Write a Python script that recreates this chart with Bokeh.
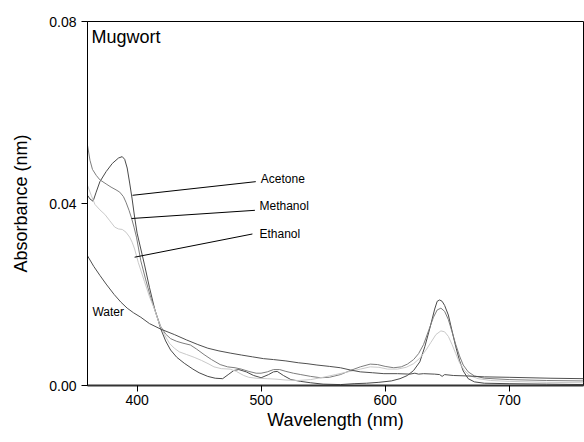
from bokeh.plotting import figure
from bokeh.models import FixedTicker, Range1d
from bokeh.core.properties import value
from bokeh.embed import file_html
from bokeh.resources import INLINE

# ---- data ----
acetone_wl = [360, 362, 364.5, 367, 370, 375, 380, 385, 388, 390, 392, 394, 396, 398, 400, 403, 406, 410, 414, 419,
              423, 427, 432, 438, 445, 450, 457, 463, 469, 474, 478, 482, 488, 494, 500, 506, 510, 513, 518, 524,
              532, 540, 550, 564, 575, 585, 595, 605, 612, 618, 623, 628, 632, 636, 640, 642, 644, 646, 648, 651,
              654, 657, 660, 663, 667, 672, 680, 700, 730, 760]
acetone_abs = [0.0418, 0.0410, 0.0405, 0.0425, 0.0448, 0.0470, 0.0488, 0.0500, 0.0503, 0.0497, 0.0478, 0.0445, 0.0410,
               0.0370, 0.0335, 0.0300, 0.0265, 0.0215, 0.0170, 0.0125, 0.0098, 0.0078, 0.0062, 0.0049, 0.0036, 0.0028,
               0.0020, 0.0016, 0.0015, 0.0025, 0.0033, 0.0035, 0.0030, 0.0022, 0.0017, 0.0024, 0.0030, 0.0031, 0.0022,
               0.0013, 0.0009, 0.0006, 0.0003, 0.0002, 0.0004, 0.0005, 0.0007, 0.0010, 0.0015, 0.0022, 0.0033, 0.0052,
               0.0085, 0.0125, 0.0168, 0.0185, 0.0188, 0.0185, 0.0176, 0.0155, 0.0120, 0.0085, 0.0055, 0.0032, 0.0015,
               0.0008, 0.0005, 0.0004, 0.0003, 0.0002]

methanol_wl = [360, 362, 364, 367, 370, 375, 379, 383, 386, 389, 391, 393.5, 395.5, 397.5, 399.5, 403, 407, 411, 415,
               419, 423, 427, 432, 437, 443, 448, 454, 460, 467, 473, 479, 484, 490, 496, 500, 505, 510, 515, 520, 526,
               532, 540, 548, 555, 564, 572, 580, 588, 594, 600, 607, 613, 618, 623, 627, 631, 635, 639, 642, 645, 648,
               651, 654, 657, 660, 663, 667, 672, 680, 700, 730, 760]
methanol_abs = [0.0528, 0.0495, 0.0475, 0.0462, 0.0452, 0.0443, 0.0436, 0.0430, 0.0425, 0.0415, 0.0403, 0.0385, 0.0368,
                0.0348, 0.0326, 0.0274, 0.0232, 0.0193, 0.0160, 0.0130, 0.0113, 0.0103, 0.0097, 0.0093, 0.0089, 0.0080,
                0.0068, 0.0057, 0.0046, 0.0041, 0.0039, 0.0036, 0.0031, 0.0027, 0.0027, 0.0030, 0.0035, 0.0035, 0.0031,
                0.0027, 0.0024, 0.0020, 0.0017, 0.0018, 0.0024, 0.0033, 0.0041, 0.0047, 0.0046, 0.0042, 0.0039, 0.0041,
                0.0047, 0.0057, 0.0070, 0.0090, 0.0120, 0.0150, 0.0166, 0.0170, 0.0163, 0.0145, 0.0118, 0.0090, 0.0065,
                0.0045, 0.0030, 0.0021, 0.0016, 0.0013, 0.0011, 0.0010]

ethanol_wl = [360, 363, 366, 370, 374, 378, 382, 385, 388, 391, 394, 396, 398, 401, 404, 406, 410, 414, 418, 422, 426,
              430, 434, 440, 446, 452, 458, 462, 468, 475, 480, 486, 490, 496, 505, 512, 520, 530, 540, 550, 560, 570,
              580, 588, 595, 602, 610, 617, 623, 628, 633, 637, 641, 645, 648, 651, 654, 657, 660, 664, 668, 675, 685,
              700, 730, 760]
ethanol_abs = [0.0440, 0.0418, 0.0398, 0.0386, 0.0376, 0.0362, 0.0348, 0.0344, 0.0343, 0.0337, 0.0326, 0.0315, 0.0300,
               0.0270, 0.0245, 0.0228, 0.0195, 0.0168, 0.0135, 0.0112, 0.0093, 0.0082, 0.0074, 0.0068, 0.0062, 0.0055,
               0.0047, 0.0041, 0.0037, 0.0036, 0.0031, 0.0022, 0.0018, 0.0016, 0.0015, 0.0014, 0.0012, 0.0011, 0.0013,
               0.0018, 0.0024, 0.0030, 0.0036, 0.0041, 0.0040, 0.0036, 0.0036, 0.0040, 0.0048, 0.0060, 0.0078, 0.0095,
               0.0112, 0.0120, 0.0118, 0.0108, 0.0090, 0.0070, 0.0050, 0.0033, 0.0022, 0.0015, 0.0011, 0.0009, 0.0007,
               0.0006]

water_wl = [360, 365, 370, 375, 381.5, 387, 392, 397, 403, 410, 419, 430, 440, 449, 457, 466, 475.6, 484, 493, 502, 510,
            520, 530, 537, 545, 555, 564, 572, 580, 590, 599, 610, 620, 624, 627, 631, 640, 644, 646, 648, 655, 666, 680,
            700, 733, 760]
water_abs = [0.0285, 0.0262, 0.0242, 0.0223, 0.0200, 0.0183, 0.0170, 0.0160, 0.0150, 0.0136, 0.0124, 0.0112, 0.0100,
             0.0090, 0.0082, 0.0076, 0.0071, 0.0067, 0.0063, 0.0059, 0.0057, 0.0054, 0.0050, 0.0048, 0.0045, 0.0042,
             0.0039, 0.0034, 0.0030, 0.0028, 0.0026, 0.0026, 0.0025, 0.0027, 0.0025, 0.0026, 0.0025, 0.0024, 0.0020,
             0.0024, 0.0022, 0.0021, 0.0019, 0.0018, 0.0016, 0.0015]

x_ticks = [400, 500, 600, 700]
y_ticks = [0.0, 0.04, 0.08]
y_tick_labels = ["0.00", "0.04", "0.08"]

series_names = ["Acetone", "Methanol", "Ethanol", "Water"]
label_x = [499.8, 498.7, 498.7, 364.0]
label_y = [0.0454, 0.0394, 0.0334, 0.0161]
leader_x0 = [396.3, 395.5, 398.0]
leader_y0 = [0.0418, 0.0367, 0.0282]
leader_x1 = [495.7, 495.0, 493.0]
leader_y1 = [0.0448, 0.0385, 0.0333]

title_text = "Mugwort"
FONT = "Liberation Sans"

p = figure(width=584, height=434, output_backend="svg", toolbar_location=None,
           x_range=Range1d(360, 760), y_range=Range1d(0, 0.08),
           min_border_left=87, min_border_right=1, min_border_top=21, min_border_bottom=49,
           x_axis_label="Wavelength (nm)", y_axis_label="Absorbance (nm)")

p.background_fill_color = "white"
p.border_fill_color = "white"
p.outline_line_color = "black"
p.outline_line_width = 1
p.xgrid.visible = False
p.ygrid.visible = False

p.xaxis.ticker = FixedTicker(ticks=x_ticks)
p.yaxis.ticker = FixedTicker(ticks=y_ticks)
p.yaxis.major_label_overrides = {t: l for t, l in zip(y_ticks, y_tick_labels)}
for ax in (p.xaxis, p.yaxis):
    ax.minor_tick_line_color = None
    ax.major_tick_out = 6
    ax.major_tick_in = 0
    ax.major_tick_line_color = "black"
    ax.major_label_text_font = FONT
    ax.major_label_text_font_size = "14px"
    ax.major_label_text_color = "black"
    ax.axis_label_text_font = FONT
    ax.axis_label_text_font_size = "18px"
    ax.axis_label_text_font_style = "normal"
    ax.axis_label_text_color = "black"
    ax.major_label_standoff = 5
p.xaxis.major_label_standoff = 3
p.xaxis.axis_line_width = 2
p.xaxis.axis_line_color = "#333333"
p.yaxis.axis_line_color = "black"
p.xaxis.axis_label_standoff = 2
p.yaxis.axis_label_standoff = 15

p.line(acetone_wl, acetone_abs, line_color="#4a4a4a", line_width=1)
p.line(methanol_wl, methanol_abs, line_color="#7d7d7d", line_width=1)
p.line(ethanol_wl, ethanol_abs, line_color="#c9c9c9", line_width=1)
p.line(water_wl, water_abs, line_color="#4f4f4f", line_width=1)

p.segment(x0=leader_x0, y0=leader_y0, x1=leader_x1, y1=leader_y1, line_color="black", line_width=1)

p.text(x=label_x, y=label_y, text=series_names, text_font=value(FONT), text_font_size="12px",
       text_align="left", text_baseline="middle", text_color="black")
p.text(x=[363.2], y=[0.0767], text=[title_text], text_font=value(FONT), text_font_size="18px",
       text_align="left", text_baseline="middle", text_color="black")

open("out.html", "w").write(file_html(p, INLINE))
